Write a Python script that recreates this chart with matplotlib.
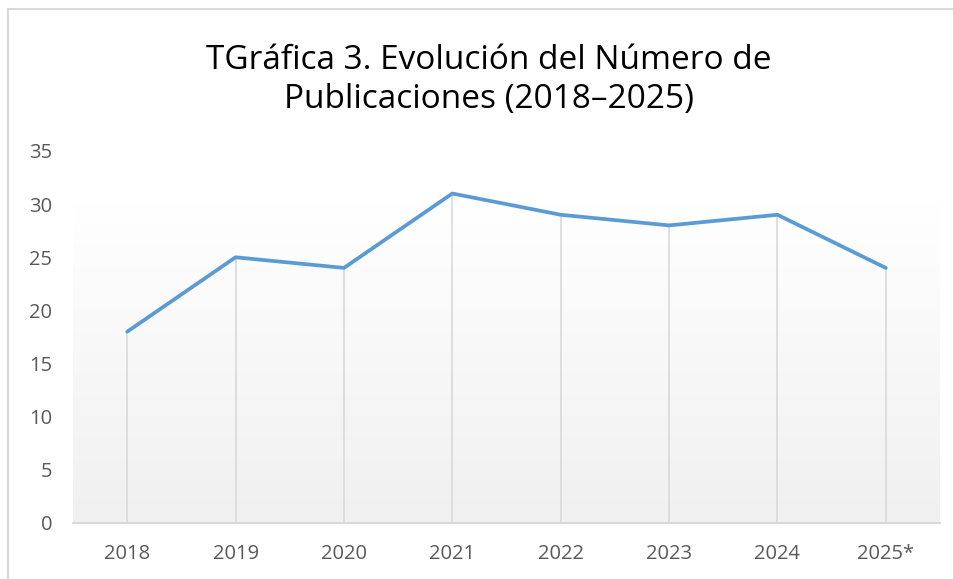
import numpy as np
import matplotlib.pyplot as plt
from matplotlib.patches import Rectangle
from matplotlib.colors import LinearSegmentedColormap

years = ['2018', '2019', '2020', '2021', '2022', '2023', '2024', '2025*']
publicaciones = [18, 25, 24, 31, 29, 28, 29, 24]
y_ticks = [0, 5, 10, 15, 20, 25, 30, 35]

W, H = 954, 579
fig = plt.figure(figsize=(W / 100, H / 100), dpi=100)
fig.patch.set_facecolor('white')

# outer chart border (only left and top visible)
fig.add_artist(Rectangle((8 / W, -0.1), 1.2, (H - 9) / H + 0.1, transform=fig.transFigure,
                         fill=False, edgecolor='#d9d9d9', linewidth=1.5))

ax = fig.add_axes([73 / W, (H - 523) / H, (940 - 73) / W, (523 - 151) / H])
x = np.arange(len(years))

# plot area gradient
grad = np.linspace(0, 1, 256).reshape(-1, 1)
cmap = LinearSegmentedColormap.from_list('g', ['#f0f0f0', '#ffffff'])
ax.imshow(grad, extent=[-0.5, len(years) - 0.5, 0, 30.1], origin='lower', aspect='auto',
          cmap=cmap, zorder=0)

ax.vlines(x, 0, publicaciones, colors='#d9d9d9', linewidth=1.2, zorder=1)
ax.plot(x, publicaciones, color='#5b9bd5', linewidth=2.7, solid_capstyle='round', zorder=3)

ax.set_xlim(-0.5, len(years) - 0.5)
ax.set_ylim(0, 35)
ax.set_xticks(x)
ax.set_xticklabels(years)
ax.set_yticks(y_ticks)
for s in ['top', 'right', 'left']:
    ax.spines[s].set_visible(False)
ax.spines['bottom'].set_color('#d9d9d9')
ax.spines['bottom'].set_linewidth(1.5)
ax.tick_params(length=0, labelsize=14.5, colors='#595959')
ax.tick_params(axis='x', pad=15)
ax.tick_params(axis='y', pad=15)
for lab in ax.get_xticklabels() + ax.get_yticklabels():
    lab.set_family('Open Sans')

fig.text(489 / W, 1 - 80 / H, 'TGráfica 3. Evolución del Número de\nPublicaciones (2018–2025)',
         ha='center', va='center', fontsize=24, family='Open Sans', color='black', linespacing=1.25)

fig.savefig('out.png', dpi=100)
